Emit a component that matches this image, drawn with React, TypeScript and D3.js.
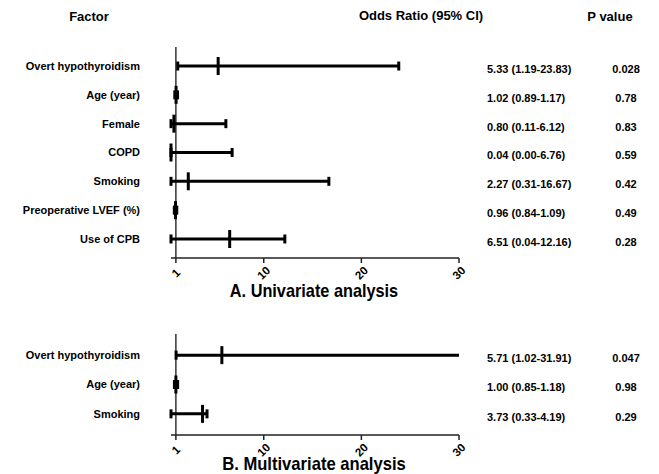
import React from "react";
import * as d3 from "d3";

const uniFactors = ["Overt hypothyroidism", "Age (year)", "Female", "COPD", "Smoking", "Preoperative LVEF (%)", "Use of CPB"];
const uniOR = [5.33, 1.02, 0.8, 0.04, 2.27, 0.96, 6.51];
const uniLow = [1.19, 0.89, 0.11, 0.0, 0.31, 0.84, 0.04];
const uniHigh = [23.83, 1.17, 6.12, 6.76, 16.67, 1.09, 12.16];
const uniP = ["0.028", "0.78", "0.83", "0.59", "0.42", "0.49", "0.28"];

const multiFactors = ["Overt hypothyroidism", "Age (year)", "Smoking"];
const multiOR = [5.71, 1.0, 3.73];
const multiLow = [1.02, 0.85, 0.33];
const multiHigh = [31.91, 1.18, 4.19];
const multiP = ["0.047", "0.98", "0.29"];

const xTicks = [1, 10, 20, 30];
const xDomain: [number, number] = [0.5, 30];

const FONT = "'Liberation Sans', Arial, Helvetica, sans-serif";

const fmt = (v: number) => v.toFixed(2);

type PanelProps = {
  factors: string[];
  or: number[];
  low: number[];
  high: number[];
  p: string[];
  top: number;
  bottom: number;
  padding: number;
  title: string;
  titleY: number;
};

function Panel({ factors, or, low, high, p, top, bottom, padding, title, titleY }: PanelProps) {
  const x = d3.scaleLinear().domain(xDomain).range([171, 459]).clamp(true);
  const y = d3.scalePoint<string>().domain(factors).range([top, bottom]).padding(padding);
  const capH = 9;
  const ptH = 18;
  const lw = 3;
  return (
    <g>
      <line x1={x(1)} x2={x(1)} y1={top} y2={bottom} stroke="#333" strokeWidth={1.5} />
      <line x1={x(xDomain[0])} x2={x(xDomain[1])} y1={bottom} y2={bottom} stroke="#222" strokeWidth={1.5} />
      {xTicks.map((t) => (
        <g key={t}>
          <line x1={x(t)} x2={x(t)} y1={bottom} y2={bottom + 5} stroke="#222" strokeWidth={1.5} />
          <text
            transform={`translate(${x(t)},${bottom + 15}) rotate(-45)`}
            textAnchor="middle"
            dominantBaseline="central"
            fontSize={11.5}
            fontWeight="bold"
            fontFamily={FONT}
          >
            {t}
          </text>
        </g>
      ))}
      {factors.map((f, i) => {
        const yy = y(f) as number;
        const lo = x(low[i]);
        const hi = x(high[i]);
        const pt = x(or[i]);
        return (
          <g key={f}>
            <text x={140} y={yy} dy="0.35em" textAnchor="end" fontSize={11} fontWeight="bold" fontFamily={FONT}>
              {f}
            </text>
            <line x1={lo} x2={hi} y1={yy} y2={yy} stroke="#000" strokeWidth={lw} />
            <line x1={lo} x2={lo} y1={yy - capH / 2} y2={yy + capH / 2} stroke="#000" strokeWidth={lw} />
            {high[i] <= xDomain[1] && (
              <line x1={hi} x2={hi} y1={yy - capH / 2} y2={yy + capH / 2} stroke="#000" strokeWidth={lw} />
            )}
            <line x1={pt} x2={pt} y1={yy - ptH / 2} y2={yy + ptH / 2} stroke="#000" strokeWidth={lw} />
            <text x={487} y={yy + 3} dy="0.35em" fontSize={11} fontWeight="bold" fontFamily={FONT}>
              {`${fmt(or[i])} (${fmt(low[i])}-${fmt(high[i])})`}
            </text>
            <text x={626} y={yy + 3} dy="0.35em" textAnchor="middle" fontSize={11} fontWeight="bold" fontFamily={FONT}>
              {p[i]}
            </text>
          </g>
        );
      })}
      <text
        x={314}
        y={titleY}
        textAnchor="middle"
        fontSize={19}
        fontWeight="bold"
        fontFamily={FONT}
        textLength={title.length * 7.65}
        lengthAdjust="spacingAndGlyphs"
      >
        {title}
      </text>
    </g>
  );
}

export default function App() {
  return (
    <svg
      width={659}
      height={474}
      viewBox="0 0 659 474"
      style={{ position: "absolute", left: 0, top: 0, background: "#fff" }}
    >
      <rect width={659} height={474} fill="#fff" />
      <text x={89} y={21} textAnchor="middle" fontSize={13} fontWeight="bold" fontFamily={FONT}>
        Factor
      </text>
      <text x={421} y={20} textAnchor="middle" fontSize={13} fontWeight="bold" fontFamily={FONT}>
        Odds Ratio (95% CI)
      </text>
      <text x={610} y={21} textAnchor="middle" fontSize={13} fontWeight="bold" fontFamily={FONT}>
        P value
      </text>
      <Panel
        factors={uniFactors}
        or={uniOR}
        low={uniLow}
        high={uniHigh}
        p={uniP}
        top={47}
        bottom={258}
        padding={0.66}
        title="A. Univariate analysis"
        titleY={296.5}
      />
      <Panel
        factors={multiFactors}
        or={multiOR}
        low={multiLow}
        high={multiHigh}
        p={multiP}
        top={334}
        bottom={435}
        padding={0.72}
        title="B. Multivariate analysis"
        titleY={470}
      />
    </svg>
  );
}
